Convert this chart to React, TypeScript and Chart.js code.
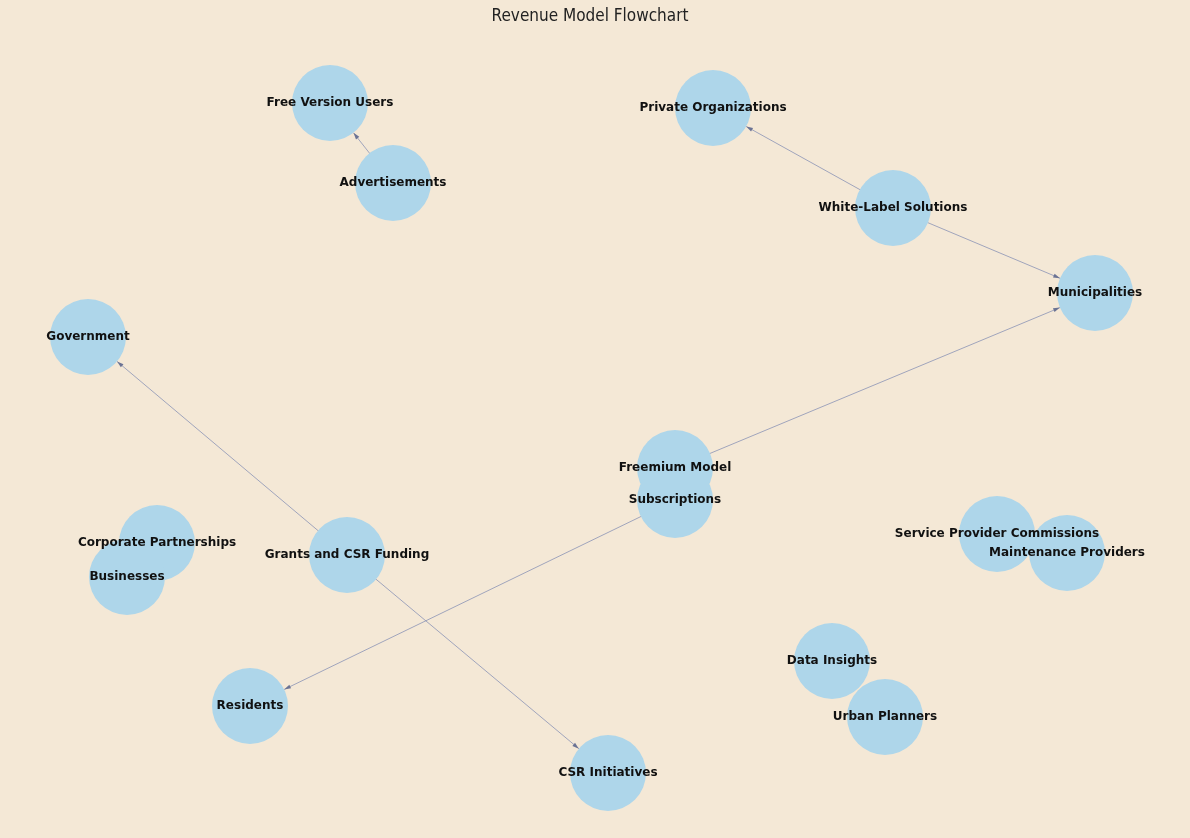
import { useEffect, useRef } from "react";
import { Chart, registerables } from "chart.js";

Chart.register(...registerables);

// node names and positions (graph layout coordinates, y down)
const nodeNames = [
  "Free Version Users", "Advertisements", "Private Organizations", "White-Label Solutions",
  "Municipalities", "Government", "Freemium Model", "Subscriptions", "Corporate Partnerships",
  "Businesses", "Grants and CSR Funding", "Service Provider Commissions", "Maintenance Providers",
  "Data Insights", "Urban Planners", "Residents", "CSR Initiatives",
];
const nodeX = [330, 393, 713, 893, 1095, 88, 675, 675, 157, 127, 347, 997, 1067, 832, 885, 250, 608];
const nodeY = [103, 183, 108, 208, 293, 337, 468, 500, 543, 577, 555, 534, 553, 661, 717, 706, 773];
// edges: [source, target]
const edges: [number, number][] = [
  [1, 0], [3, 2], [3, 4], [6, 4], [7, 15], [10, 5], [10, 16],
];

const NODE_R = 38;

const graphPlugin = {
  id: "graph",
  beforeDatasetsDraw(chart: any) {
    const { ctx, scales } = chart;
    const px = (i: number) => scales.x.getPixelForValue(nodeX[i]);
    const py = (i: number) => scales.y.getPixelForValue(nodeY[i]);
    ctx.save();
    ctx.strokeStyle = "#8a93b5";
    ctx.fillStyle = "#6b7394";
    ctx.lineWidth = 0.8;
    edges.forEach(([s, t]) => {
      const x1 = px(s), y1 = py(s), x2 = px(t), y2 = py(t);
      const a = Math.atan2(y2 - y1, x2 - x1);
      const ex = x2 - Math.cos(a) * NODE_R, ey = y2 - Math.sin(a) * NODE_R;
      ctx.beginPath();
      ctx.moveTo(x1, y1);
      ctx.lineTo(ex, ey);
      ctx.stroke();
      ctx.beginPath();
      ctx.moveTo(ex, ey);
      ctx.lineTo(ex - 7 * Math.cos(a - 0.3), ey - 7 * Math.sin(a - 0.3));
      ctx.lineTo(ex - 7 * Math.cos(a + 0.3), ey - 7 * Math.sin(a + 0.3));
      ctx.closePath();
      ctx.fill();
    });
    ctx.restore();
  },
  afterDatasetsDraw(chart: any) {
    const { ctx, scales } = chart;
    ctx.save();
    ctx.fillStyle = "#111";
    ctx.font = "bold 12px 'DejaVu Sans'";
    ctx.textAlign = "center";
    ctx.textBaseline = "middle";
    nodeNames.forEach((n, i) => {
      ctx.fillText(n, scales.x.getPixelForValue(nodeX[i]), scales.y.getPixelForValue(nodeY[i]));
    });
    ctx.font = "17px 'DejaVu Sans Condensed', 'DejaVu Sans'";
    ctx.fillStyle = "#222";
    ctx.fillText("Revenue Model Flowchart", 590, 17);
    ctx.restore();
  },
};

const bgPlugin = {
  id: "bg",
  beforeDraw(chart: any) {
    const { ctx, width, height } = chart;
    ctx.save();
    ctx.fillStyle = "#f4e8d6";
    ctx.fillRect(0, 0, width, height);
    ctx.restore();
  },
};

export default function App() {
  const canvasRef = useRef<HTMLCanvasElement>(null);

  useEffect(() => {
    document.body.style.margin = "0";
    if (!canvasRef.current) return;
    const chart = new Chart(canvasRef.current, {
      type: "scatter",
      data: {
        datasets: [
          {
            data: nodeX.map((x, i) => ({ x, y: nodeY[i] })),
            backgroundColor: "#aed6ea",
            borderWidth: 0,
            pointRadius: NODE_R,
            pointHoverRadius: NODE_R,
            clip: false,
          },
        ],
      },
      options: {
        animation: false,
        responsive: false,
        layout: { padding: 0 },
        scales: {
          x: { display: false, min: NODE_R, max: 1190 - NODE_R },
          y: { display: false, min: NODE_R, max: 838 - NODE_R, reverse: true },
        },
        plugins: { legend: { display: false }, tooltip: { enabled: false } },
      },
      plugins: [bgPlugin, graphPlugin],
    });
    return () => chart.destroy();
  }, []);

  return <canvas ref={canvasRef} width={1190} height={838} style={{ display: "block" }} />;
}
